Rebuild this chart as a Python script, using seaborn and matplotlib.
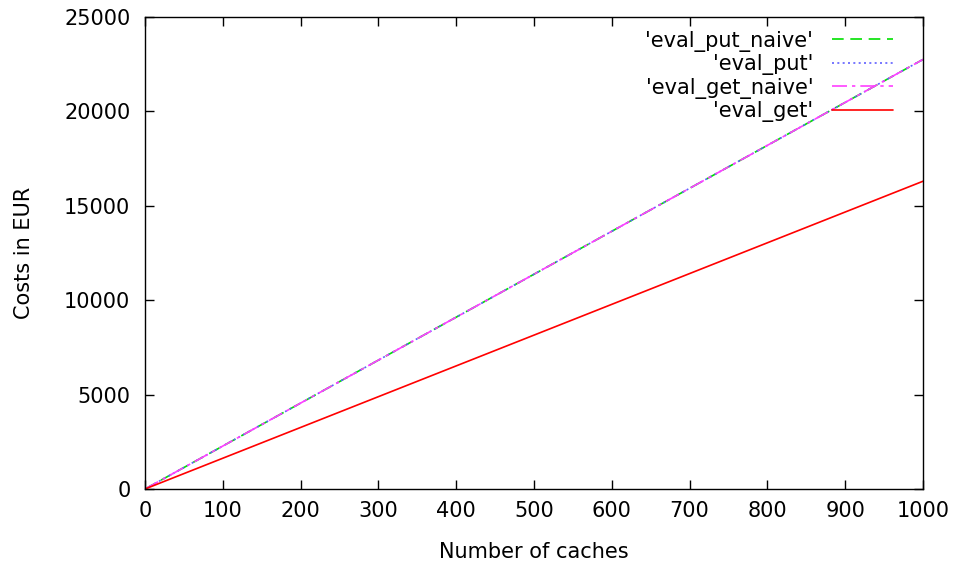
import matplotlib
matplotlib.use("Agg")
import matplotlib.pyplot as plt
import seaborn as sns
import pandas as pd

# number of caches
caches = [0, 100, 200, 300, 400, 500, 600, 700, 800, 900, 1000]
# costs in EUR
eval_put_naive = [0, 2275, 4550, 6825, 9100, 11375, 13650, 15925, 18200, 20475, 22750]
eval_put = [0, 2275, 4550, 6825, 9100, 11375, 13650, 15925, 18200, 20475, 22750]
eval_get_naive = [0, 2275, 4550, 6825, 9100, 11375, 13650, 15925, 18200, 20475, 22750]
eval_get = [0, 1630, 3260, 4890, 6520, 8150, 9780, 11410, 13040, 14670, 16300]

sns.set_style("ticks")
plt.rcParams['font.family'] = ['DejaVu Sans']
plt.rcParams['text.color'] = 'black'
plt.rcParams['axes.labelcolor'] = 'black'

fig = plt.figure(figsize=(9.57, 5.65), dpi=100)
ax = fig.add_axes([0.1515, 0.1345, 0.813, 0.8355])

series = [
    ("'eval_put_naive'", eval_put_naive, "#00e000", (7, 4)),
    ("'eval_put'", eval_put, "#6060ff", (1.2, 2.0)),
    ("'eval_get_naive'", eval_get_naive, "#ff40ff", (9, 3, 2, 3)),
    ("'eval_get'", eval_get, "#ff0000", None),
]
for name, vals, color, dash in series:
    df = pd.DataFrame({"caches": caches, "cost": vals})
    sns.lineplot(data=df, x="caches", y="cost", ax=ax, color=color,
                 linewidth=1.2, label=name)
    if dash is not None:
        ax.lines[-1].set_dashes(dash)

ax.set_xlim(0, 1000)
ax.set_ylim(0, 25000)
ax.set_xticks(range(0, 1001, 100))
ax.set_yticks(range(0, 25001, 5000))
ax.tick_params(direction="in", length=6.5, width=1, top=True, right=True,
               labelsize=15, colors="black")
ax.tick_params(axis="y", pad=10.5)
ax.tick_params(axis="x", pad=8.5)
for s in ax.spines.values():
    s.set_visible(True)
    s.set_linewidth(1)
    s.set_color("black")

ax.set_xlabel("Number of caches", fontsize=15, labelpad=15)
ax.set_ylabel("Costs in EUR", fontsize=15, labelpad=22)

ax.legend(loc="upper right", bbox_to_anchor=(0.962, 0.971), frameon=False,
          markerfirst=False, fontsize=15, handlelength=2.95, handletextpad=0.9,
          labelspacing=0.12, borderpad=0, borderaxespad=0)

fig.savefig("out.png", dpi=100)
